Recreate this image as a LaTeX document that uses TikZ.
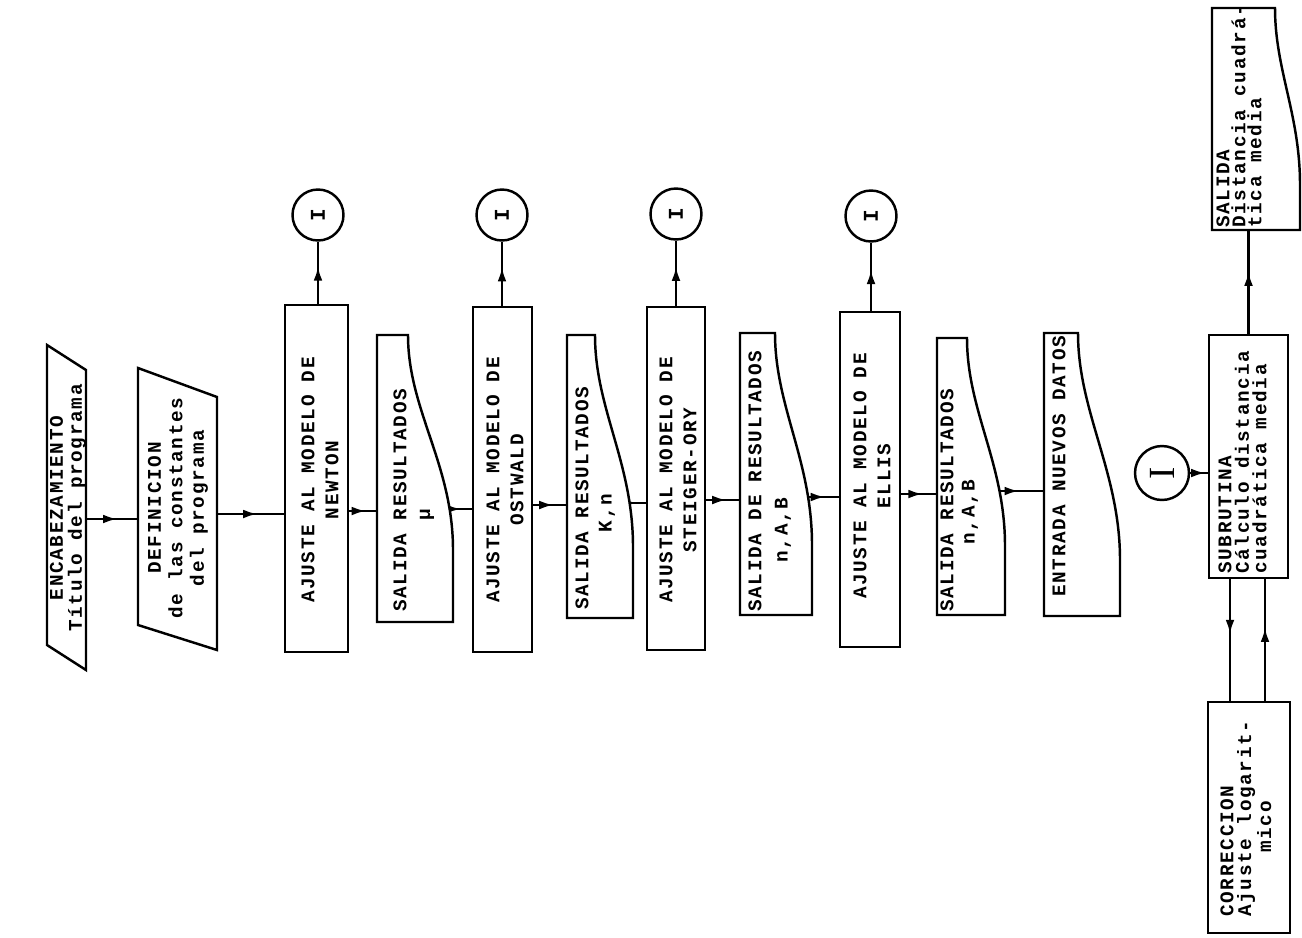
\documentclass[tikz,border=0pt]{standalone}
\usepackage{graphicx}
\usepackage{fontspec}
\newfontfamily\tw[LetterSpace=8.8]{Liberation Mono Bold}
\newfontfamily\serifI{Liberation Serif}
\usetikzlibrary{fit,arrows.meta,decorations.markings}
\tikzset{
  ln/.style={line width=1.4pt},
  boxr/.style={draw, line width=1.4pt, inner sep=0pt},
  ghost/.style={inner sep=0pt},
  flow/.style={line width=1.3pt, postaction={decorate}, decoration={markings, mark=at position #1 with {\arrow{Latex[length=8pt,width=5pt]}}}},
  flow/.default=0.6,
  txt/.style={rotate=90, inner sep=0pt, font=\tw\fontsize{11pt}{#1}\selectfont},
  txt/.default=13.7pt,
  icirc/.style={circle, draw, line width=1.4pt, minimum size=1.02cm, inner sep=0pt, font=\tw\fontsize{12pt}{14pt}\selectfont},
}
\begin{document}
\begin{tikzpicture}[x=0.02cm, y=-0.02cm]
\useasboundingbox (0,0) rectangle (1302,937);

% frames
\node[ghost, fit={(47,345)(86,670)}] (e) {};
\node[ghost, fit={(138,368)(217,650)}] (d) {};
\node[boxr, fit={(285,305)(348,652)}] (n) {};
\node[ghost, fit={(377,335)(453,622)}] (s1) {};
\node[boxr, fit={(473,307)(532,652)}] (o) {};
\node[ghost, fit={(567,335)(633,618)}] (s2) {};
\node[boxr, fit={(647,307)(705,650)}] (st) {};
\node[ghost, fit={(740,333)(812,615)}] (s3) {};
\node[boxr, fit={(840,312)(900,647)}] (el) {};
\node[ghost, fit={(937,338)(1005,615)}] (s4) {};
\node[ghost, fit={(1044,333)(1120,616)}] (en) {};
\node[boxr, fit={(1209,335)(1288,578)}] (sub) {};
\node[ghost, fit={(1212,8)(1300,230)}] (so) {};
\node[boxr, fit={(1208,702)(1290,933)}] (cor) {};

% connector circles
\node[icirc] (c1) at (318,215) {\rotatebox{90}{I}};
\node[icirc] (c2) at (502,215) {\rotatebox{90}{I}};
\node[icirc] (c3) at (676,214) {\rotatebox{90}{I}};
\node[icirc] (c4) at (871,216) {\rotatebox{90}{I}};
\node[icirc, minimum size=1.08cm, font=\serifI\fontsize{21pt}{24pt}\selectfont] (c5) at (1162,473) {\rotatebox{90}{I}};

% main flow
\draw[flow] (e.east |- 0,519) -- (d.west |- 0,519);
\draw[flow] (d.east |- 0,514) -- (n.west |- 0,514);
\draw[flow] (n.east |- 0,511) -- (s1.west |- 0,511);
\draw[flow=-0.22cm] (s1.center |- 0,509) -- (o.west |- 0,509);
\draw[flow] (o.east |- 0,505) -- (s2.west |- 0,505);
\draw[flow=-0.18cm] (s2.center |- 0,503) -- (st.west |- 0,503);
\draw[flow] (st.east |- 0,500) -- (s3.west |- 0,500);
\draw[flow=-0.28cm] (s3.center |- 0,497) -- (el.west |- 0,497);
\draw[flow] (el.east |- 0,494) -- (s4.west |- 0,494);
\draw[flow=-0.5cm] (s4.center |- 0,491) -- (en.west |- 0,491);

\draw[flow] (n.north -| c1) -- (c1.south);
\draw[flow] (o.north -| c2) -- (c2.south);
\draw[flow] (st.north -| c3) -- (c3.south);
\draw[flow] (el.north -| c4) -- (c4.south);

\draw[flow=0.85] (c5.east) -- (sub.west |- c5.east);
\draw[flow=0.6] (sub.north) -- (sub.north |- so.south);
\draw[flow=0.45] ([xshift=-0.37cm]sub.south) -- ([xshift=-0.37cm]sub.south |- cor.north);
\draw[flow=0.6] ([xshift=0.33cm]sub.south |- cor.north) -- ([xshift=0.33cm]sub.south);

% shapes
\draw[ln, fill=white] (47,345) -- (86,370) -- (86,670) -- (47,645) -- cycle;
\draw[ln, fill=white] (138,368) -- (217,397) -- (217,650) -- (138,625) -- cycle;
\draw[ln, fill=white] (377,335) -- (408,335) .. controls (408,410) and (453,464) .. (453,550) -- (453,622) -- (377,622) -- cycle;
\draw[ln, fill=white] (567,335) -- (595,335) .. controls (595,409) and (633,462) .. (633,547) -- (633,618) -- (567,618) -- cycle;
\draw[ln, fill=white] (740,333) -- (775,333) .. controls (775,407) and (812,460) .. (812,545) -- (812,615) -- (740,615) -- cycle;
\draw[ln, fill=white] (937,338) -- (967,338) .. controls (967,411) and (1005,463) .. (1005,546) -- (1005,615) -- (937,615) -- cycle;
\draw[ln, fill=white] (1044,333) -- (1078,333) .. controls (1078,412) and (1120,472) .. (1120,560) -- (1120,616) -- (1044,616) -- cycle;
\draw[ln, fill=white] (1212,8) -- (1275,8) .. controls (1275,70) and (1300,114) .. (1300,185) -- (1300,230) -- (1212,230) -- cycle;

% texts
\node[txt=10.8pt, align=center] (te) at (68,508) {ENCABEZAMIENTO\\Título del programa};
\node[txt=12.2pt, align=center] (td) at (178,508) {DEFINICION\\de las constantes\\del programa};
\node[txt, align=center] (tn) at (320,480) {AJUSTE AL MODELO DE\\NEWTON};
\node[txt, align=center] (to) at (505,480) {AJUSTE AL MODELO DE\\OSTWALD};
\node[txt, align=center] (tst) at (678,480) {AJUSTE AL MODELO DE\\STEIGER-ORY};
\node[txt, align=center] (tel) at (872,476) {AJUSTE AL MODELO DE\\ELLIS};
\node[txt, anchor=west] (ts1a) at (400,612) {SALIDA RESULTADOS};
\node[txt] (ts1b) at (427,515) {μ};
\node[txt, anchor=west] (ts2a) at (582,610) {SALIDA RESULTADOS};
\node[txt] (ts2b) at (607,513) {K,n};
\node[txt, anchor=west] (ts3a) at (755,612) {SALIDA DE RESULTADOS};
\node[txt] (ts3b) at (783,530) {n,A,B};
\node[txt, anchor=west] (ts4a) at (947,612) {SALIDA RESULTADOS};
\node[txt] (ts4b) at (970,512) {n,A,B};
\node[txt, anchor=west] (tent) at (1059,597) {ENTRADA NUEVOS DATOS};
\node[txt=10pt, align=left, anchor=north west] (tsub) at (1218,574) {SUBRUTINA\\Cálculo distancia\\cuadrática media};
\node[txt=9.1pt, align=left, anchor=north west] (tso) at (1216,228) {SALIDA\\Distancia cuadrá-\\tica media};
\node[txt=10.2pt, align=left, anchor=north west] (tcor) at (1220,917) {CORRECCION\\Ajuste logarit-\\\hspace*{3.3em}mico};
\end{tikzpicture}
\end{document}
